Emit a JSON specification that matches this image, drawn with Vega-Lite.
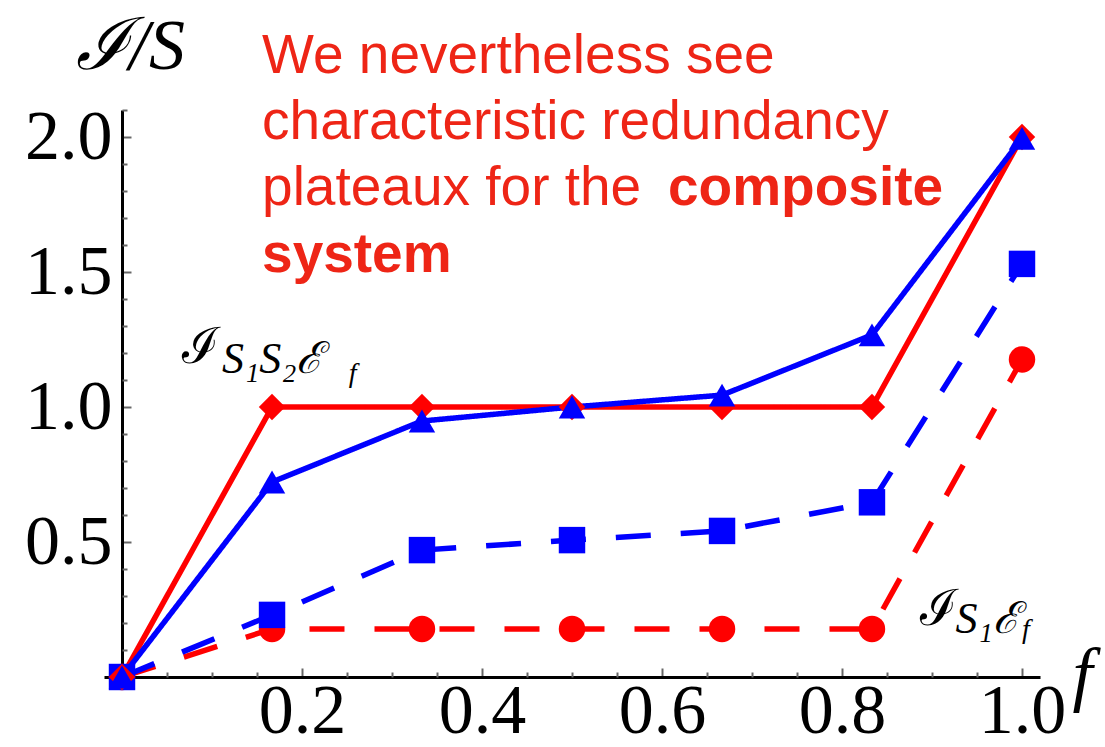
{
  "$schema": "https://vega.github.io/schema/vega-lite/v6.json",
  "width": 936,
  "height": 567,
  "autosize": "none",
  "padding": {"left": 104, "top": 110, "right": 65, "bottom": 70},
  "background": "white",
  "config": {"view": {"stroke": null}},
  "datasets": {
    "series": [
      {"f": 0, "v": 0, "s": "a_red_dash"},
      {"f": 0.1667, "v": 0.178, "s": "a_red_dash"},
      {"f": 0.3333, "v": 0.178, "s": "a_red_dash"},
      {"f": 0.5, "v": 0.178, "s": "a_red_dash"},
      {"f": 0.6667, "v": 0.178, "s": "a_red_dash"},
      {"f": 0.8333, "v": 0.178, "s": "a_red_dash"},
      {"f": 1.0, "v": 1.176, "s": "a_red_dash"},
      {"f": 0, "v": 0, "s": "b_blue_dash"},
      {"f": 0.1667, "v": 0.23, "s": "b_blue_dash"},
      {"f": 0.3333, "v": 0.47, "s": "b_blue_dash"},
      {"f": 0.5, "v": 0.507, "s": "b_blue_dash"},
      {"f": 0.6667, "v": 0.541, "s": "b_blue_dash"},
      {"f": 0.8333, "v": 0.647, "s": "b_blue_dash"},
      {"f": 1.0, "v": 1.53, "s": "b_blue_dash"},
      {"f": 0, "v": 0, "s": "c_red_solid"},
      {"f": 0.1667, "v": 1.0, "s": "c_red_solid"},
      {"f": 0.3333, "v": 1.0, "s": "c_red_solid"},
      {"f": 0.5, "v": 1.0, "s": "c_red_solid"},
      {"f": 0.6667, "v": 1.0, "s": "c_red_solid"},
      {"f": 0.8333, "v": 1.0, "s": "c_red_solid"},
      {"f": 1.0, "v": 2.0, "s": "c_red_solid"},
      {"f": 0, "v": 0, "s": "d_blue_solid"},
      {"f": 0.1667, "v": 0.722, "s": "d_blue_solid"},
      {"f": 0.3333, "v": 0.948, "s": "d_blue_solid"},
      {"f": 0.5, "v": 1.0, "s": "d_blue_solid"},
      {"f": 0.6667, "v": 1.044, "s": "d_blue_solid"},
      {"f": 0.8333, "v": 1.267, "s": "d_blue_solid"},
      {"f": 1.0, "v": 1.995, "s": "d_blue_solid"}
    ],
    "noteRegular": [
      {"f": 0.1556, "v": 2.237, "t": "We nevertheless see"},
      {"f": 0.1556, "v": 1.993, "t": "characteristic redundancy"},
      {"f": 0.1556, "v": 1.748, "t": "plateaux for the"}
    ],
    "noteBold": [
      {"f": 0.6067, "v": 1.748, "t": "composite"},
      {"f": 0.1556, "v": 1.5, "t": "system"}
    ],
    "symMain": [
      {"f": 0.0667, "v": 1.163, "t": "ℐ"},
      {"f": 0.8867, "v": 0.193, "t": "ℐ"}
    ],
    "symSub": [
      {"f": 0.111, "v": 1.126, "t": "S₁S₂ℰ"},
      {"f": 0.926, "v": 0.163, "t": "S₁ℰ"}
    ],
    "symSubSub": [
      {"f": 0.252, "v": 1.093, "t": "f"},
      {"f": 1.0, "v": 0.144, "t": "f"}
    ]
  },
  "resolve": {"axis": {"x": "independent", "y": "independent"}},
  "layer": [
    {
      "data": {"name": "series"},
      "mark": {"type": "line", "strokeWidth": 5.5, "strokeCap": "butt"},
      "encoding": {
        "x": {
          "field": "f", "type": "quantitative",
          "scale": {"domain": [-0.02, 1.02], "nice": false, "zero": false},
          "axis": {
            "orient": "bottom",
            "values": [0.2, 0.4, 0.6, 0.8, 1.0],
            "format": ".1f",
            "labelFont": "Liberation Serif",
            "labelFontSize": 70,
            "labelColor": "black",
            "labelPadding": 9,
            "labelFlush": false,
            "labelOverlap": false,
            "tickSize": -9,
            "tickWidth": 2,
            "tickColor": "#666666",
            "domainColor": "black",
            "domainWidth": 3,
            "grid": false,
            "title": "f",
            "titleFont": "Liberation Serif",
            "titleFontStyle": "italic",
            "titleFontWeight": "normal",
            "titleFontSize": 72,
            "titleColor": "black",
            "titleAlign": "center",
            "titleBaseline": "alphabetic",
            "titleAnchor": null,
            "titleX": 978,
            "titleY": 20
          }
        },
        "y": {
          "field": "v", "type": "quantitative",
          "scale": {"domain": [0, 2.1], "nice": false, "zero": false},
          "axis": {
            "orient": "left",
            "offset": -18,
            "values": [0.5, 1.0, 1.5, 2.0],
            "format": ".1f",
            "labelFont": "Liberation Serif",
            "labelFontSize": 70,
            "labelColor": "black",
            "labelPadding": 19,
            "labelFlush": false,
            "labelOverlap": false,
            "tickSize": -9,
            "tickWidth": 2,
            "tickColor": "#666666",
            "domainColor": "black",
            "domainWidth": 3,
            "grid": false,
            "title": "ℐ/S",
            "titleFont": "Liberation Serif",
            "titleFontStyle": "italic",
            "titleFontWeight": "normal",
            "titleFontSize": 72,
            "titleColor": "black",
            "titleAngle": 0,
            "titleAlign": "center",
            "titleBaseline": "alphabetic",
            "titleAnchor": null,
            "titleX": 8,
            "titleY": -42
          }
        },
        "color": {
          "field": "s", "type": "nominal", "legend": null,
          "scale": {"domain": ["a_red_dash", "b_blue_dash", "c_red_solid", "d_blue_solid"], "range": ["#ff0000", "#0000ff", "#ff0000", "#0000ff"]}
        },
        "strokeDash": {
          "field": "s", "type": "nominal", "legend": null,
          "scale": {"domain": ["a_red_dash", "b_blue_dash", "c_red_solid", "d_blue_solid"], "range": [[35, 30], [35, 30], [1, 0], [1, 0]]}
        }
      }
    },
    {
      "data": {"name": "series"},
      "mark": {"type": "point", "filled": true, "size": 700, "opacity": 1},
      "encoding": {
        "x": {
          "field": "f", "type": "quantitative",
          "axis": {
            "orient": "bottom",
            "values": [0.05, 0.1, 0.15, 0.25, 0.3, 0.35, 0.45, 0.5, 0.55, 0.65, 0.7, 0.75, 0.85, 0.9, 0.95],
            "labels": false,
            "domain": false,
            "grid": false,
            "title": null,
            "tickSize": -5,
            "tickWidth": 2,
            "tickColor": "#666666"
          }
        },
        "y": {
          "field": "v", "type": "quantitative",
          "axis": {
            "orient": "left",
            "offset": -18,
            "values": [0.1, 0.2, 0.3, 0.4, 0.6, 0.7, 0.8, 0.9, 1.1, 1.2, 1.3, 1.4, 1.6, 1.7, 1.8, 1.9, 2.1],
            "labels": false,
            "domain": false,
            "grid": false,
            "title": null,
            "tickSize": -5,
            "tickWidth": 2,
            "tickColor": "#666666"
          }
        },
        "color": {
          "field": "s", "type": "nominal", "legend": null,
          "scale": {"domain": ["a_red_dash", "b_blue_dash", "c_red_solid", "d_blue_solid"], "range": ["#ff0000", "#0000ff", "#ff0000", "#0000ff"]}
        },
        "shape": {
          "field": "s", "type": "nominal", "legend": null,
          "scale": {"domain": ["a_red_dash", "b_blue_dash", "c_red_solid", "d_blue_solid"], "range": ["circle", "square", "diamond", "triangle-up"]}
        }
      }
    },
    {
      "data": {"name": "noteRegular"},
      "mark": {"type": "text", "font": "Liberation Sans", "fontSize": 55, "fontWeight": "normal", "color": "#ee2516", "align": "left", "baseline": "alphabetic"},
      "encoding": {
        "x": {"field": "f", "type": "quantitative", "axis": null},
        "y": {"field": "v", "type": "quantitative", "axis": null},
        "text": {"field": "t"}
      }
    },
    {
      "data": {"name": "noteBold"},
      "mark": {"type": "text", "font": "Liberation Sans", "fontSize": 55, "fontWeight": "bold", "color": "#ee2516", "align": "left", "baseline": "alphabetic"},
      "encoding": {
        "x": {"field": "f", "type": "quantitative", "axis": null},
        "y": {"field": "v", "type": "quantitative", "axis": null},
        "text": {"field": "t"}
      }
    },
    {
      "data": {"name": "symMain"},
      "mark": {"type": "text", "font": "DejaVu Serif", "fontSize": 50, "color": "black", "align": "left", "baseline": "alphabetic"},
      "encoding": {
        "x": {"field": "f", "type": "quantitative", "axis": null},
        "y": {"field": "v", "type": "quantitative", "axis": null},
        "text": {"field": "t"}
      }
    },
    {
      "data": {"name": "symSub"},
      "mark": {"type": "text", "font": "Liberation Serif", "fontStyle": "italic", "fontSize": 44, "color": "black", "align": "left", "baseline": "alphabetic"},
      "encoding": {
        "x": {"field": "f", "type": "quantitative", "axis": null},
        "y": {"field": "v", "type": "quantitative", "axis": null},
        "text": {"field": "t"}
      }
    },
    {
      "data": {"name": "symSubSub"},
      "mark": {"type": "text", "font": "Liberation Serif", "fontStyle": "italic", "fontSize": 28, "color": "black", "align": "left", "baseline": "alphabetic"},
      "encoding": {
        "x": {"field": "f", "type": "quantitative", "axis": null},
        "y": {"field": "v", "type": "quantitative", "axis": null},
        "text": {"field": "t"}
      }
    }
  ]
}
